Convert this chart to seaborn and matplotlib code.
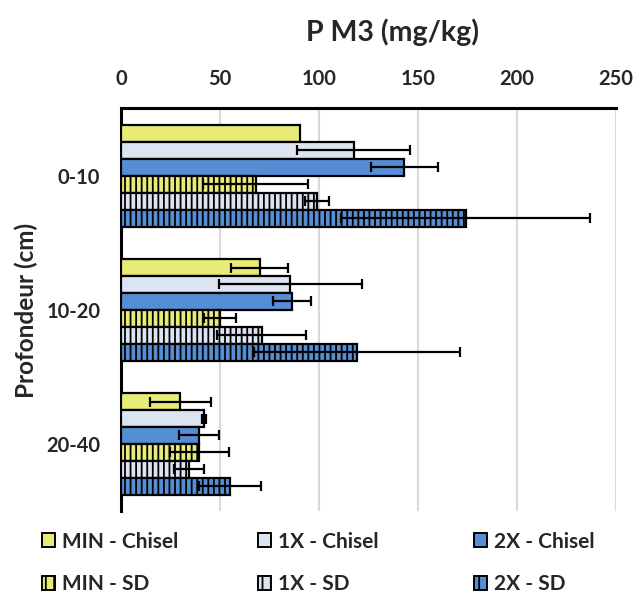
import pandas as pd
import numpy as np
import matplotlib.pyplot as plt
import seaborn as sns
from matplotlib.patches import Patch

# Data
depths = ['0-10', '10-20', '20-40']
series = ['MIN - Chisel', '1X - Chisel', '2X - Chisel', 'MIN - SD', '1X - SD', '2X - SD']

min_chisel = [90.5, 70.0, 30.0]
x1_chisel = [117.5, 85.5, 42.0]
x2_chisel = [143.0, 86.5, 39.5]
min_sd = [68.0, 50.0, 39.5]
x1_sd = [99.0, 71.0, 34.5]
x2_sd = [174.0, 119.0, 55.0]

err_min_chisel = [np.nan, 14.5, 15.5]
err_x1_chisel = [28.5, 36.0, 1.0]
err_x2_chisel = [17.0, 9.5, 10.0]
err_min_sd = [26.5, 8.0, 15.0]
err_x1_sd = [6.0, 22.5, 7.5]
err_x2_sd = [63.0, 52.0, 15.5]

means = [min_chisel, x1_chisel, x2_chisel, min_sd, x1_sd, x2_sd]
errs = [err_min_chisel, err_x1_chisel, err_x2_chisel, err_min_sd, err_x1_sd, err_x2_sd]

colors = ['#E8EB76', '#DCE4F2', '#558ED5'] * 2
hatches = ['', '', '', '|||', '|||', '|||']

rows = []
for s, vals in zip(series, means):
    for d, v in zip(depths, vals):
        rows.append({'depth': d, 'series': s, 'value': v})
df = pd.DataFrame(rows)

sns.set_theme(style="white")
plt.rcParams['font.family'] = ['Lato', 'DejaVu Sans']
plt.rcParams['font.weight'] = 'bold'
plt.rcParams['hatch.linewidth'] = 1.3
plt.rcParams['hatch.color'] = '#333333'

fig = plt.figure(figsize=(6.36, 5.93), dpi=100)
ax = fig.add_axes([0.1903, 0.1383, 0.7783, 0.6796])

sns.barplot(data=df, x='value', y='depth', hue='series', order=depths, hue_order=series,
            orient='h', palette=colors, saturation=1, width=0.76, gap=0, errorbar=None,
            edgecolor='black', linewidth=1.6, legend=False, ax=ax, zorder=3)

# hatching + error bars
for cont, h, err in zip(ax.containers, hatches, errs):
    for bar, e in zip(cont, err):
        if h:
            bar.set_hatch(h)
        if not np.isnan(e):
            ax.errorbar(bar.get_width(), bar.get_y() + bar.get_height() / 2, xerr=e,
                        fmt='none', ecolor='black', elinewidth=1.6, capsize=3.5,
                        capthick=1.6, zorder=5)

ax.set_xlim(0, 250)
ax.set_ylim(2.5, -0.507)
ax.set_xticks([0, 50, 100, 150, 200, 250])
ax.xaxis.tick_top()
ax.tick_params(axis='both', length=0, labelsize=14.5)
ax.tick_params(axis='x', pad=14)
ax.tick_params(axis='y', pad=15)
for lab in ax.get_xticklabels() + ax.get_yticklabels():
    lab.set_fontweight('bold')
ax.set_xlabel('')
ax.set_ylabel('')
ax.grid(axis='x', color='#D9D9D9', linewidth=1.5, zorder=0)
ax.set_axisbelow(True)
for side in ['right', 'bottom']:
    ax.spines[side].set_visible(False)
for side in ['top', 'left']:
    ax.spines[side].set_color('black')
    ax.spines[side].set_linewidth(2.2)

fig.text(393 / 636, 1 - 32 / 593, 'P M3 (mg/kg)', ha='center', va='center',
         fontsize=20.5, fontweight='bold')
fig.text(26 / 636, 1 - 310 / 593, 'Profondeur (cm)', ha='center', va='center',
         rotation=90, fontsize=17.5, fontweight='bold')

# legend: three equal-width columns
col_x = [42, 258, 474]
for i in range(3):
    handles = []
    for j in (i, i + 3):
        handles.append(Patch(facecolor=colors[j], edgecolor='black', linewidth=1.4,
                             hatch=hatches[j].replace('|||', '||'), label=series[j]))
    fig.legend(handles=handles, loc='center left',
               bbox_to_anchor=(col_x[i] / 636, 1 - 563 / 593),
               frameon=False, prop={'weight': 'bold', 'size': 15},
               handlelength=0.63, handleheight=0.63, handletextpad=0.34,
               labelspacing=1.1, borderpad=0, borderaxespad=0)

plt.savefig('out.png', dpi=100)
plt.close()
